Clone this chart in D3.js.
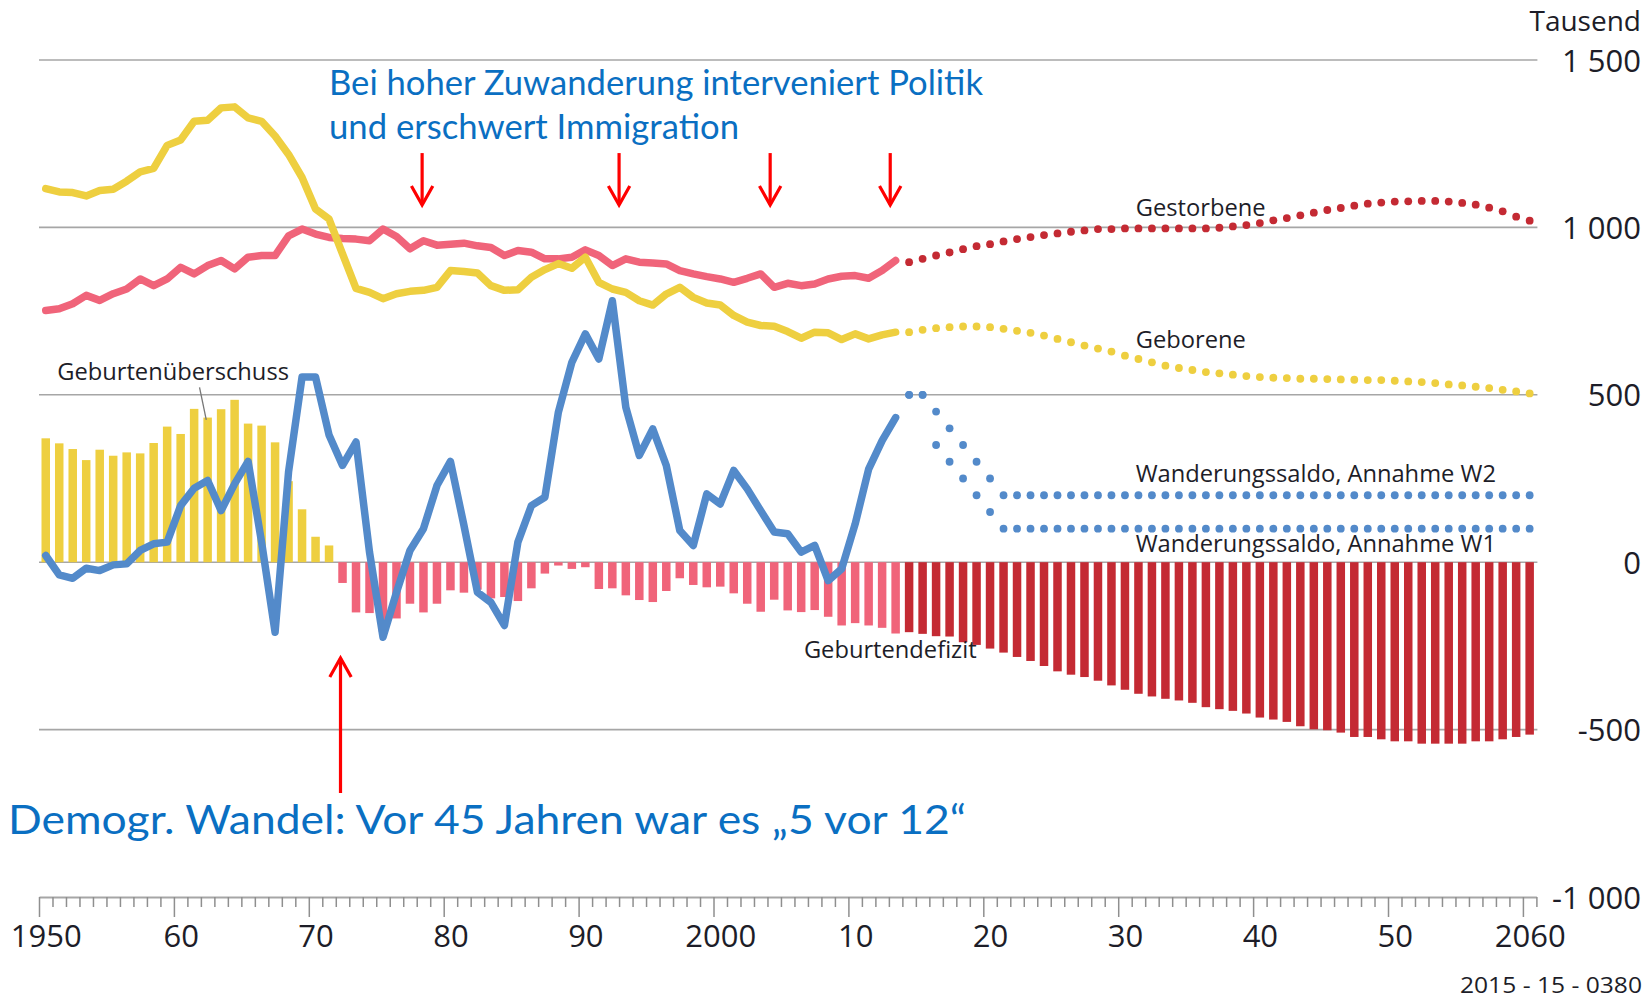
<!DOCTYPE html>
<html>
<head>
<meta charset="utf-8">
<script src="https://cdn.jsdelivr.net/npm/d3@7"></script>
<style>
  body { margin: 0; background: #fff; }
  text { font-family: "Open Sans", sans-serif; }
</style>
</head>
<body>
<script>
// years (categories)
var histYears = d3.range(1950, 2014);   // observed 1950-2013
var projYears = d3.range(2014, 2061);   // projection 2014-2060

// Geborene, thousand (1950-2013)
var births = [1116, 1106, 1104, 1094, 1110, 1114, 1138, 1166, 1176, 1245,
              1261, 1317, 1320, 1357, 1360, 1327, 1317, 1273, 1218, 1149,
              1055, 1025, 921, 818, 806, 787, 802, 809, 812, 821,
              871, 868, 864, 826, 812, 814, 851, 874, 892, 878,
              911, 836, 816, 806, 781, 768, 801, 821, 791, 774,
              768, 737, 717, 707, 705, 689, 669, 687, 685, 665,
              682, 667, 679, 687];

// Gestorbene, thousand (1950-2013)
var deaths = [752, 757, 772, 797, 782, 802, 816, 846, 826, 846,
              881, 861, 886, 901, 876, 911, 916, 916, 975, 995,
              980, 970, 967, 965, 960, 995, 973, 936, 960, 947,
              950, 953, 945, 940, 916, 931, 926, 906, 906, 911,
              933, 916, 886, 906, 896, 894, 891, 871, 861, 853,
              846, 836, 848, 861, 821, 833, 826, 831, 846, 854,
              856, 848, 871, 901];

// Geburtenüberschuss / -defizit, thousand (1950-2013)
var balance = [370, 355, 338, 305, 336, 318, 328, 325, 356, 405,
               383, 458, 432, 457, 485, 414, 408, 358, 242, 158,
               76, 50, -62, -150, -152, -208, -168, -124, -150, -124,
               -84, -91, -82, -108, -104, -116, -78, -34, -10, -20,
               -15, -80, -78, -99, -113, -119, -86, -48, -68, -75,
               -73, -93, -124, -148, -112, -144, -149, -143, -163, -189,
               -182, -189, -196, -213];

// Wanderungssaldo, thousand (1950-2013)
var migration = [20, -38, -48, -18, -25, -8, -5, 35, 55, 60,
                 169, 221, 244, 154, 234, 301, 60, -209, 270, 553,
                 553, 380, 289, 359, 30, -224, -90, 35, 100, 229,
                 301, 110, -90, -120, -189, 60, 169, 194, 448, 597,
                 682, 607, 781, 463, 319, 398, 289, 95, 50, 204,
                 174, 274, 219, 154, 90, 85, 30, 50, -55, -20,
                 114, 278, 363, 432];

// projections 2014-2060
var birthsProj = [687, 694, 699, 702, 704, 704, 702, 697, 691, 685,
                  677, 667, 657, 647, 638, 629, 617, 607, 597, 587,
                  580, 574, 568, 564, 560, 556, 553, 551, 550, 548,
                  548, 547, 546, 545, 544, 544, 542, 540, 538, 535,
                  531, 528, 524, 520, 515, 510, 504];

var deathsProj = [896, 906, 916, 925, 935, 944, 950, 958, 965, 971,
                  977, 982, 987, 991, 995, 995, 997, 997, 997, 997,
                  997, 997, 997, 999, 1003, 1007, 1013, 1021, 1028, 1036,
                  1044, 1052, 1058, 1065, 1071, 1074, 1077, 1078, 1079, 1079,
                  1077, 1073, 1068, 1059, 1048, 1032, 1020];

var balanceProj = [-209, -214, -221, -222, -239, -247, -258, -270, -283, -295,
                   -310, -326, -336, -343, -354, -368, -381, -393, -401, -408,
                   -413, -420, -433, -439, -444, -452, -464, -470, -477, -490,
                   -499, -502, -509, -522, -522, -529, -535, -535, -542, -542,
                   -542, -542, -535, -535, -529, -522, -515];

var migrationW2 = [500, 500, 450, 400, 350, 300, 250, 200, 200, 200,
                   200, 200, 200, 200, 200, 200, 200, 200, 200, 200,
                   200, 200, 200, 200, 200, 200, 200, 200, 200, 200,
                   200, 200, 200, 200, 200, 200, 200, 200, 200, 200,
                   200, 200, 200, 200, 200, 200, 200];

var migrationW1 = [500, 500, 350, 300, 250, 200, 150, 100, 100, 100,
                   100, 100, 100, 100, 100, 100, 100, 100, 100, 100,
                   100, 100, 100, 100, 100, 100, 100, 100, 100, 100,
                   100, 100, 100, 100, 100, 100, 100, 100, 100, 100,
                   100, 100, 100, 100, 100, 100, 100];

// axis labels
var yTicks = [1500, 1000, 500, 0, -500, -1000];
var yTickLabels = ["1 500", "1 000", "500", "0", "-500", "-1 000"];
var xLabelYears = [1950, 1960, 1970, 1980, 1990, 2000, 2010, 2020, 2030, 2040, 2050, 2060];
var xTickLabels = ["1950", "60", "70", "80", "90", "2000", "10", "20", "30", "40", "50", "2060"];

// annotation arrows (years)
var downArrows = [1978.4, 1993.0, 2004.2, 2013.1];
var upArrow = 1972.35;

window.onload = function(){

    var w = 1649, h = 1006;
    var yellow = "#EECF40", pink = "#F0647A", darkRed = "#C42A33",
        blue = "#538ACA", gridGrey = "#A6A6A6", noteBlue = "#0A6FC2", ink = "#1d1d28";

    var svg = d3.select("body")
        .append("svg")
        .attr("width", w)
        .attr("height", h)
        .style("background-color", "#ffffff");

    // one band per year, ticks at the year borders
    var x = d3.scaleLinear().domain([1950, 2061]).range([39, 1536.4]);
    var y = d3.scaleLinear().domain([-1000, 1500]).range([897, 60]);
    var mid = function(yr){ return x(yr + 0.5); };

    // gridlines
    svg.append("g")
        .selectAll("line")
        .data(yTicks.slice(0, 5))
        .enter()
        .append("line")
        .attr("x1", x(1950))
        .attr("x2", x(2061) + 1)
        .attr("y1", function(d){ return y(d); })
        .attr("y2", function(d){ return y(d); })
        .style("stroke", gridGrey)
        .style("stroke-width", 1.6);

    // x axis with yearly ticks
    var xAxis = svg.append("g")
        .attr("transform", "translate(0," + y(-1000) + ")")
        .call(d3.axisBottom(x)
            .tickValues(d3.range(1950, 2062))
            .tickSize(10)
            .tickSizeOuter(0)
            .tickFormat(""));
    xAxis.select(".domain").style("stroke", gridGrey).style("stroke-width", 1.8);
    xAxis.selectAll(".tick line")
        .style("stroke", "#8f8f8f")
        .style("stroke-width", 1.5)
        .attr("y2", function(d){ return d % 10 === 0 ? 20 : 10; });

    // x labels centred on the year band
    var xLab = svg.append("g")
        .attr("transform", "translate(0," + y(-1000) + ")")
        .call(d3.axisBottom(x)
            .tickValues(xLabelYears.map(function(d){ return d + 0.5; }))
            .tickSize(0)
            .tickFormat(function(d, i){ return xTickLabels[i]; }));
    xLab.select(".domain").remove();
    xLab.selectAll("text")
        .attr("y", 50)
        .attr("dy", 0)
        .style("font-family", "'Open Sans', sans-serif")
        .style("font-size", "31px")
        .style("fill", ink);

    // right value labels
    var yLab = svg.append("g")
        .attr("transform", "translate(1641,0)")
        .call(d3.axisRight(y)
            .tickValues(yTicks)
            .tickSize(0)
            .tickFormat(function(d, i){ return yTickLabels[i]; }));
    yLab.select(".domain").remove();
    yLab.selectAll("text")
        .attr("x", 0)
        .attr("dy", "0.36em")
        .style("text-anchor", "end")
        .style("font-family", "'Open Sans', sans-serif")
        .style("font-size", "31px")
        .style("fill", ink);

    svg.append("text")
        .attr("x", 1641)
        .attr("y", 31)
        .attr("text-anchor", "end")
        .style("font-size", "28px")
        .style("fill", ink)
        .text("Tausend");

    // natural balance bars
    var bw = 8.5;
    svg.append("g")
        .selectAll("rect")
        .data(histYears)
        .enter()
        .append("rect")
        .attr("x", function(d){ return mid(d) - bw / 2; })
        .attr("width", bw)
        .attr("y", function(d, i){ return y(Math.max(0, balance[i])); })
        .attr("height", function(d, i){ return Math.abs(y(balance[i]) - y(0)); })
        .style("fill", function(d, i){ return balance[i] >= 0 ? yellow : pink; });

    svg.append("g")
        .selectAll("rect")
        .data(projYears)
        .enter()
        .append("rect")
        .attr("x", function(d){ return mid(d) - bw / 2; })
        .attr("width", bw)
        .attr("y", y(0))
        .attr("height", function(d, i){ return y(balanceProj[i]) - y(0); })
        .style("fill", darkRed);

    // observed lines
    var drawLine = function(vals, colour){
        var line = d3.line()
            .x(function(d){ return mid(d); })
            .y(function(d, i){ return y(vals[i]); });
        svg.append("path")
            .datum(histYears)
            .attr("d", line)
            .style("fill", "none")
            .style("stroke", colour)
            .style("stroke-width", 7.5)
            .style("stroke-linejoin", "round")
            .style("stroke-linecap", "round");
    };
    drawLine(deaths, pink);
    drawLine(births, yellow);

    // projected dotted series
    var drawDots = function(vals, colour){
        svg.append("g")
            .selectAll("circle")
            .data(projYears)
            .enter()
            .append("circle")
            .attr("cx", function(d){ return mid(d); })
            .attr("cy", function(d, i){ return y(vals[i]); })
            .attr("r", 3.9)
            .style("fill", colour);
    };
    drawDots(deathsProj, darkRed);
    drawDots(birthsProj, yellow);

    drawLine(migration, blue);
    drawDots(migrationW2, blue);
    drawDots(migrationW1, blue);

    // series labels
    var labels = [
        ["Gestorbene", 2031.3, 1034],
        ["Geborene", 2031.3, 640],
        ["Wanderungssaldo, Annahme W2", 2031.3, 240],
        ["Wanderungssaldo, Annahme W1", 2031.3, 31],
        ["Geburtendefizit", 2006.7, -286],
        ["Geburtenüberschuss", 1951.35, 544]
    ];
    svg.append("g")
        .selectAll("text")
        .data(labels)
        .enter()
        .append("text")
        .attr("x", function(d){ return x(d[1]); })
        .attr("y", function(d){ return y(d[2]); })
        .style("font-size", "23.7px")
        .style("fill", ink)
        .text(function(d){ return d[0]; });

    // leader to the surplus bars
    svg.append("line")
        .attr("x1", x(1961.9)).attr("y1", y(522))
        .attr("x2", x(1962.4)).attr("y2", y(425))
        .style("stroke", "#777")
        .style("stroke-width", 1.3);

    // red arrows
    var arrow = function(xp, y1, y2){
        var dir = y2 > y1 ? -1 : 1;
        svg.append("line")
            .attr("x1", xp).attr("x2", xp)
            .attr("y1", y1).attr("y2", y2)
            .style("stroke", "#FF0000")
            .style("stroke-width", 3.2);
        svg.append("path")
            .attr("d", "M" + (xp - 10.7) + "," + (y2 + dir * 19) + "L" + xp + "," + y2 + "L" + (xp + 10.7) + "," + (y2 + dir * 19))
            .style("fill", "none")
            .style("stroke", "#FF0000")
            .style("stroke-width", 3.2);
    };
    downArrows.forEach(function(d){ arrow(x(d), y(1222), y(1067)); });
    arrow(x(upArrow), y(-689), y(-286));

    // blue annotation text
    var note = svg.append("g")
        .style("fill", noteBlue);
    note.append("text")
        .attr("x", 329).attr("y", 95)
        .attr("textLength", 654).attr("lengthAdjust", "spacingAndGlyphs")
        .style("font-family", "Lato, sans-serif")
        .style("font-size", "34px")
        .text("Bei hoher Zuwanderung interveniert Politik");
    note.append("text")
        .attr("x", 329).attr("y", 139)
        .attr("textLength", 410).attr("lengthAdjust", "spacingAndGlyphs")
        .style("font-family", "Lato, sans-serif")
        .style("font-size", "34px")
        .text("und erschwert Immigration");
    note.append("text")
        .attr("x", 8).attr("y", 834)
        .attr("textLength", 958).attr("lengthAdjust", "spacingAndGlyphs")
        .style("font-family", "Lato, sans-serif")
        .style("font-size", "41px")
        .text("Demogr. Wandel: Vor 45 Jahren war es \u201E5 vor 12\u201C");

    // source code
    svg.append("text")
        .attr("x", 1642)
        .attr("y", 993)
        .attr("text-anchor", "end")
        .attr("textLength", 182).attr("lengthAdjust", "spacingAndGlyphs")
        .style("font-size", "22px")
        .style("fill", ink)
        .text("2015 - 15 - 0380");
};
</script>
</body>
</html>
